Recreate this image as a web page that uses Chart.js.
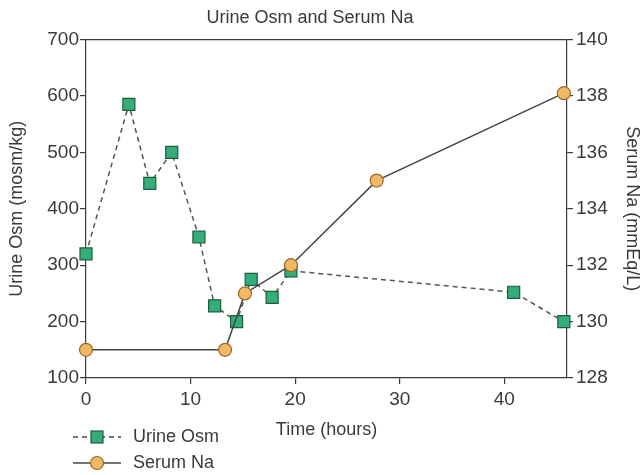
<!DOCTYPE html>
<html>
<head>
<meta charset="utf-8">
<script src="https://cdn.jsdelivr.net/npm/chart.js@4"></script>
<style>
  html, body { margin: 0; padding: 0; background: #fff; }
  #wrap { width: 644px; height: 475px; position: relative; }
</style>
</head>
<body>
<div id="wrap"><canvas id="chart"></canvas></div>
<script>
const osmHours = [0, 4.1, 6.1, 8.2, 10.8, 12.3, 14.4, 15.8, 17.8, 19.6, 40.9, 45.7];
const osmValues = [320, 585, 445, 500, 350, 228, 200, 275, 243, 290, 252, 200];
const naHours = [0, 13.3, 15.2, 19.6, 27.8, 45.7];
const naValues = [129, 129, 131, 132, 135, 138.1];
const osmTicks = [100, 200, 300, 400, 500, 600, 700];
const naTicks = [128, 130, 132, 134, 136, 138, 140];
const hourTicks = [0, 10, 20, 30, 40];

const font = { family: "'Liberation Sans', Arial, sans-serif" };
const ink = '#3a3a3a';
const osmFill = '#34ad78';
const osmEdge = '#1d5e3e';
const naFill = '#f3b865';
const naEdge = '#9a6a2a';

const boxAndLegend = {
  id: 'boxAndLegend',
  afterDatasetsDraw(c) {
    const { ctx, chartArea: a } = c;
    ctx.save();
    ctx.strokeStyle = ink;
    ctx.lineWidth = 1.2;
    ctx.beginPath();
    ctx.moveTo(a.left, a.top);
    ctx.lineTo(a.right, a.top);
    ctx.stroke();

    // legend, bottom left
    const rows = [
      { label: 'Urine Osm', y: 437, dash: [5, 4], style: 'rect', fill: osmFill, edge: osmEdge },
      { label: 'Serum Na', y: 463, dash: [], style: 'circle', fill: naFill, edge: naEdge },
    ];
    rows.forEach((r) => {
      ctx.strokeStyle = '#444';
      ctx.lineWidth = 1.4;
      ctx.setLineDash(r.dash);
      ctx.beginPath();
      ctx.moveTo(73, r.y);
      ctx.lineTo(121, r.y);
      ctx.stroke();
      ctx.setLineDash([]);
      ctx.fillStyle = r.fill;
      ctx.strokeStyle = r.edge;
      ctx.lineWidth = 1.2;
      if (r.style === 'rect') {
        ctx.fillRect(91, r.y - 6, 12, 12);
        ctx.strokeRect(91, r.y - 6, 12, 12);
      } else {
        ctx.beginPath();
        ctx.arc(97, r.y, 6.5, 0, Math.PI * 2);
        ctx.fill();
        ctx.stroke();
      }
      ctx.fillStyle = ink;
      ctx.font = "18px 'Liberation Sans', Arial, sans-serif";
      ctx.textBaseline = 'middle';
      ctx.textAlign = 'left';
      ctx.fillText(r.label, 133, r.y);
    });
    ctx.restore();
  },
};

const tickGrid = () => ({
  display: true,
  drawOnChartArea: false,
  drawTicks: true,
  tickLength: 6,
  color: ink,
  lineWidth: 1.2,
});

new Chart(document.getElementById('chart'), {
  type: 'scatter',
  data: {
    datasets: [
      {
        label: 'Urine Osm',
        data: osmHours.map((h, i) => ({ x: h, y: osmValues[i] })),
        showLine: true,
        clip: false,
        borderColor: '#555',
        borderWidth: 1.5,
        borderDash: [5, 4],
        pointStyle: 'rect',
        pointRadius: 8.5,
        pointBackgroundColor: osmFill,
        pointBorderColor: osmEdge,
        pointBorderWidth: 1.2,
        yAxisID: 'y',
        order: 2,
      },
      {
        label: 'Serum Na',
        data: naHours.map((h, i) => ({ x: h, y: naValues[i] })),
        showLine: true,
        clip: false,
        borderColor: '#444',
        borderWidth: 1.5,
        pointStyle: 'circle',
        pointRadius: 6.5,
        pointBackgroundColor: naFill,
        pointBorderColor: naEdge,
        pointBorderWidth: 1.2,
        yAxisID: 'y1',
        order: 1,
      },
    ],
  },
  options: {
    responsive: true,
    maintainAspectRatio: false,
    animation: false,
    layout: { padding: { top: 0, left: 0, right: 24, bottom: 30 } },
    plugins: {
      legend: { display: false },
      tooltip: { enabled: false },
      title: {
        display: true,
        text: 'Urine Osm and Serum Na',
        color: ink,
        font: { ...font, size: 18, weight: 'normal' },
        padding: { top: 7, bottom: 11 },
      },
    },
    scales: {
      x: {
        type: 'linear',
        min: 0,
        max: 46,
        afterBuildTicks: (s) => { s.ticks = hourTicks.map((v) => ({ value: v })); },
        afterFit: (s) => { s.height = 67; },
        border: { display: true, color: ink, width: 1.2 },
        grid: tickGrid(),
        ticks: { color: ink, font: { ...font, size: 19 }, padding: 4, maxRotation: 0 },
        title: {
          display: true,
          text: 'Time (hours)',
          color: ink,
          font: { ...font, size: 18 },
          padding: { top: 0, bottom: 4 },
        },
      },
      y: {
        position: 'left',
        min: 100,
        max: 700,
        afterBuildTicks: (s) => { s.ticks = osmTicks.map((v) => ({ value: v })); },
        afterFit: (s) => { s.width = 86; },
        border: { display: true, color: ink, width: 1.2 },
        grid: tickGrid(),
        ticks: { color: ink, font: { ...font, size: 19 }, padding: 1 },
        title: {
          display: true,
          text: 'Urine Osm (mosm/kg)',
          color: ink,
          font: { ...font, size: 18 },
          padding: { top: 6, bottom: 0 },
        },
      },
      y1: {
        position: 'right',
        min: 128,
        max: 140,
        afterBuildTicks: (s) => { s.ticks = naTicks.map((v) => ({ value: v })); },
        afterFit: (s) => { s.width = 53; },
        border: { display: true, color: ink, width: 1.2 },
        grid: tickGrid(),
        ticks: { color: ink, font: { ...font, size: 19 }, padding: 3 },
        title: {
          display: false,
          text: 'Serum Na (mmEq/L)',
        },
      },
    },
  },
  plugins: [boxAndLegend, {
    id: 'rightTitle',
    afterDraw(c) {
      // right axis title sits in the padded margin, reading top to bottom
      const { ctx, chartArea: a } = c;
      ctx.save();
      ctx.translate(632, (a.top + a.bottom) / 2);
      ctx.rotate(Math.PI / 2);
      ctx.fillStyle = ink;
      ctx.font = "18px 'Liberation Sans', Arial, sans-serif";
      ctx.textAlign = 'center';
      ctx.textBaseline = 'middle';
      ctx.fillText(c.options.scales.y1.title.text, 0, 0);
      ctx.restore();
    },
  }],
});
</script>
</body>
</html>
